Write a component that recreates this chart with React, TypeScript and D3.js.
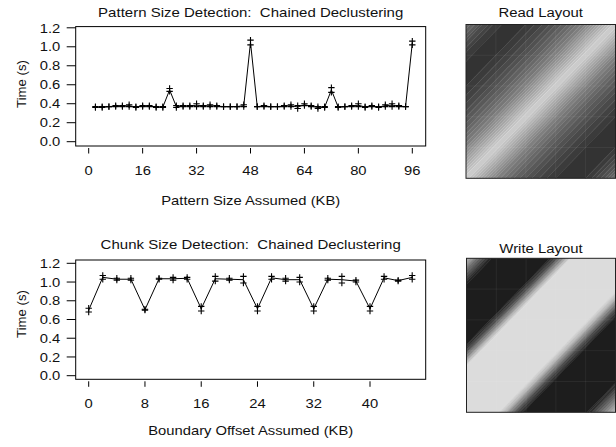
import React from "react";
import * as d3 from "d3";

// ---------- data ----------
const patternX = [2,4,6,8,10,12,14,16,18,20,22,24,26,28,30,32,34,36,38,40,42,44,46,48,50,52,54,56,58,60,62,64,66,68,70,72,74,76,78,80,82,84,86,88,90,92,94,96];
const patternTrialA = [.37,.37,.37,.38,.38,.39,.37,.38,.38,.37,.37,.56,.38,.38,.38,.40,.38,.39,.38,.37,.37,.37,.39,1.07,.37,.38,.37,.37,.38,.39,.38,.40,.38,.37,.37,.57,.37,.37,.38,.40,.37,.38,.37,.39,.40,.38,.37,1.06];
const patternTrialB = [.36,.36,.37,.37,.37,.37,.36,.37,.37,.36,.36,.53,.36,.37,.37,.37,.37,.37,.37,.37,.37,.37,.37,1.02,.37,.37,.37,.37,.37,.37,.35,.38,.37,.35,.36,.52,.36,.37,.37,.37,.36,.37,.36,.37,.37,.37,.37,1.02];
const patternTicks = [0,16,32,48,64,80,96];

const chunkX = [0,2,4,6,8,10,12,14,16,18,20,22,24,26,28,30,32,34,36,38,40,42,44,46];
const chunkTrialA = [.72,1.07,1.04,1.04,.71,1.04,1.05,1.05,.74,1.06,1.04,1.06,.74,1.06,1.04,1.05,.74,1.04,1.06,1.02,.74,1.06,1.02,1.07];
const chunkTrialB = [.68,1.03,1.02,1.02,.70,1.03,1.02,1.03,.69,1.01,1.02,.99,.69,1.03,1.01,1.00,.69,1.02,.99,1.00,.69,1.03,1.01,1.03];
const chunkTicks = [0,8,16,24,32,40];

const yTicks = [0,0.2,0.4,0.6,0.8,1.0,1.2];

// layout profiles: relative throughput vs. diagonal offset (u - v)
const readOffsets = [-1,-0.9,-0.8,-0.7,-0.6,-0.5,-0.4,-0.3,-0.2,-0.1,0,0.1,0.2,0.3,0.4,0.5,0.6,0.7,0.8,0.9,1];
const readValues = [0.35,0.18,0.04,0,0.02,0.1,0.2,0.32,0.48,0.7,0.93,0.7,0.48,0.32,0.2,0.1,0.02,0,0.02,0.15,0.35];
const writeOffsets = [-1,-0.95,-0.9,-0.85,-0.82,-0.44,-0.4,-0.35,-0.3,0.22,0.26,0.3,0.34,0.39,0.8,0.85,0.9,0.95,1];
const writeValues = [0.8,0.55,0.3,0.08,0,0,0.2,0.6,1,1,0.8,0.5,0.2,0,0,0.15,0.4,0.62,0.85];

const FONT = "'Liberation Sans', Arial, Helvetica, sans-serif";
const FS = 13.2;
const SX = 1.12;

function HText({x, y, anchor = "middle", size = FS, children}: any) {
  return (
    <text transform={`translate(${x},${y}) scale(${SX},1)`} textAnchor={anchor}
      fontFamily={FONT} fontSize={size} fill="#111" style={{whiteSpace: "pre"}}>{children}</text>
  );
}

function LinePlot({xs, a, b, xTicks, xDomain, xRange, yRange, box, title, titleY, xTitle, xTitleY, xLabelY, yTitleY}: any) {
  const x = d3.scaleLinear(xDomain, xRange);
  const y = d3.scaleLinear([0, 1.2], yRange);
  const pts = xs.map((v: number, i: number) => ({x: v, m: (a[i] + b[i]) / 2}));
  const line = d3.line<any>().x(d => x(d.x)).y(d => y(d.m));
  const markers: {x: number; y: number}[] = [];
  xs.forEach((v: number, i: number) => {
    markers.push({x: x(v), y: y(a[i])});
    markers.push({x: x(v), y: y(b[i])});
  });
  const [bx0, bx1, by0, by1] = box;
  const r = 3.2;
  return (
    <g>
      <HText x={(bx0 + bx1) / 2} y={titleY} size={13.4}>{title}</HText>
      <rect x={bx0} y={by0} width={bx1 - bx0} height={by1 - by0} fill="none" stroke="#000" strokeWidth={1} />
      {yTicks.map(t => (
        <g key={t}>
          <line x1={bx0 - 9} x2={bx0} y1={y(t)} y2={y(t)} stroke="#000" />
          <HText x={bx0 - 15.5} y={y(t) + 4.7} anchor="end">{t.toFixed(1)}</HText>
        </g>
      ))}
      {xTicks.map((t: number) => (
        <g key={t}>
          <line x1={x(t)} x2={x(t)} y1={by1 + 2} y2={by1 + 7.5} stroke="#000" />
          <HText x={x(t)} y={xLabelY}>{t}</HText>
        </g>
      ))}
      <HText x={(bx0 + bx1) / 2} y={xTitleY}>{xTitle}</HText>
      <text transform={`translate(25.5,${yTitleY}) rotate(-90)`} textAnchor="middle"
        fontFamily={FONT} fontSize={FS} fill="#111">Time (s)</text>
      <path d={line(pts) || ""} fill="none" stroke="#000" strokeWidth={1} />
      {markers.map((m, i) => (
        <path key={i} d={`M${m.x - r},${m.y}H${m.x + r}M${m.x},${m.y - r}V${m.y + r}`} stroke="#000" strokeWidth={1.1} fill="none" />
      ))}
    </g>
  );
}

function Layout({id, box, offsets, values, dark, light, title, titleY, seam}: any) {
  const [x0, x1, y0, y1] = box;
  const u = d3.scaleLinear([0, 1], [x0, x1]);
  const v = d3.scaleLinear([0, 1], [y1, y0]);
  const prof = d3.scaleLinear(offsets, values).clamp(true);
  const color = d3.scaleLinear<string>([0, 1], [dark, light]);
  const step = 0.01;
  const levels = 22;
  const edges = d3.range(-1, 1 + step / 2, step);
  const runs: {a: number; b: number; q: number}[] = [];
  for (let i = 0; i < edges.length - 1; i++) {
    const a = edges[i], b = edges[i + 1];
    const q = Math.round(prof((a + b) / 2) * levels) / levels;
    const last = runs[runs.length - 1];
    if (last && last.q === q) last.b = b; else runs.push({a, b, q});
  }
  runs[0].a = -2;
  runs[runs.length - 1].b = 2;
  const poly = (a: number, b: number) => {
    const p = [[a - 0.2, -0.2], [a + 1.2, 1.2], [b + 1.2, 1.2], [b - 0.2, -0.2]];
    return "M" + p.map(([uu, vv]) => `${u(uu)},${v(vv)}`).join("L") + "Z";
  };
  const grid = [0.2, 0.4, 0.6, 0.8];
  return (
    <g>
      <HText x={(x0 + x1) / 2} y={titleY} size={13.3}>{title}</HText>
      <clipPath id={id}><rect x={x0} y={y0} width={x1 - x0} height={y1 - y0} /></clipPath>
      <g clipPath={`url(#${id})`}>
        {runs.map((r, i) => (
          <path key={i} d={poly(r.a, r.b)} fill={color(r.q)} stroke={seam && r.q > 0 ? color(Math.min(1, r.q + 0.08)) : color(r.q)} strokeWidth={0.5} />
        ))}
        {grid.map(g => (
          <g key={g}>
            <line x1={u(g)} x2={u(g)} y1={y0} y2={y1} stroke="#fff" strokeOpacity={0.06} />
            <line x1={x0} x2={x1} y1={v(g)} y2={v(g)} stroke="#fff" strokeOpacity={0.06} />
          </g>
        ))}
      </g>
      <rect x={x0} y={y0} width={x1 - x0} height={y1 - y0} fill="none" stroke="#222" strokeWidth={1} />
    </g>
  );
}

export default function App() {
  return (
    <svg width={616} height={447} style={{position: "absolute", left: 0, top: 0, background: "#fff"}}>
      <LinePlot xs={patternX} a={patternTrialA} b={patternTrialB} xTicks={patternTicks}
        xDomain={[0, 96]} xRange={[88.7, 412.3]} yRange={[141.7, 27.8]} box={[75.7, 425.7, 26.6, 146]}
        title={"Pattern Size Detection:  Chained Declustering"} titleY={16.7}
        xTitle="Pattern Size Assumed (KB)" xTitleY={204.5} xLabelY={175} yTitleY={84} />
      <LinePlot xs={chunkX} a={chunkTrialA} b={chunkTrialB} xTicks={chunkTicks}
        xDomain={[0, 40]} xRange={[88.7, 370]} yRange={[375.7, 263.3]} box={[75.7, 425.7, 260, 379.3]}
        title={"Chunk Size Detection:  Chained Declustering"} titleY={249.3}
        xTitle="Boundary Offset Assumed (KB)" xTitleY={434.5} xLabelY={408.3} yTitleY={314} />
      <Layout id="clipRead" box={[466, 615.5, 24.5, 178.3]} offsets={readOffsets} values={readValues}
        dark="#333333" light="#dadada" title="Read Layout" titleY={17.3} seam={true} />
      <Layout id="clipWrite" box={[466.5, 615.5, 258.3, 412.3]} offsets={writeOffsets} values={writeValues}
        dark="#1d1d1d" light="#dcdcdc" title="Write Layout" titleY={252.8} seam={false} />
    </svg>
  );
}
